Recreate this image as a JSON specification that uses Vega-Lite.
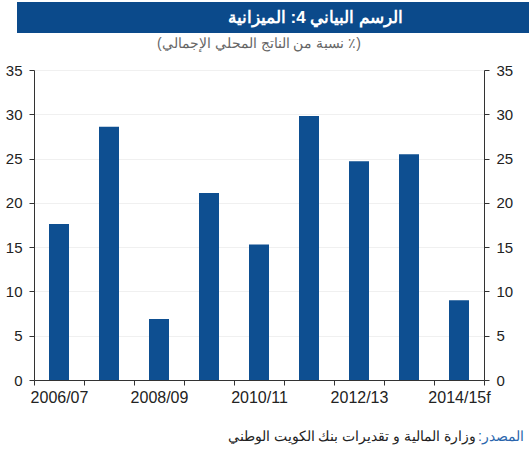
{
  "$schema": "https://vega.github.io/schema/vega-lite/v6.json",
  "padding": {"top": 2, "left": 0, "right": 0, "bottom": 0},
  "background": "white",
  "spacing": 4,
  "center": true,
  "config": {
    "view": {"stroke": null},
    "font": "Liberation Sans"
  },
  "vconcat": [
    {
      "width": 529,
      "height": 31,
      "view": {"fill": "#0b4a8b", "stroke": null},
      "data": {"values": [{"label": "الرسم البياني 4: الميزانية"}]},
      "mark": {"type": "text", "color": "white", "fontSize": 17, "fontWeight": "bold", "align": "center", "baseline": "middle", "dx": 34},
      "encoding": {"text": {"field": "label"}}
    },
    {
      "width": 450,
      "height": 310,
      "title": {
        "text": "‏(٪ نسبة من الناتج المحلي الإجمالي)‏",
        "fontSize": 14,
        "fontWeight": "normal",
        "color": "#666666",
        "offset": 12,
        "anchor": "middle"
      },
      "data": {
        "values": [
          {"year": "2006/07", "balance": 17.6},
          {"year": "2007/08", "balance": 28.6},
          {"year": "2008/09", "balance": 6.9},
          {"year": "2009/10", "balance": 21.1},
          {"year": "2010/11", "balance": 15.3},
          {"year": "2011/12", "balance": 29.8},
          {"year": "2012/13", "balance": 24.7},
          {"year": "2013/14", "balance": 25.5},
          {"year": "2014/15f", "balance": 9.0}
        ]
      },
      "encoding": {
        "x": {
          "field": "year",
          "type": "ordinal",
          "sort": null,
          "scale": {"paddingInner": 0, "paddingOuter": 0},
          "axis": {
            "title": null,
            "labelAngle": 0,
            "tickBand": "extent",
            "labelOverlap": false,
            "labelExpr": "indexof(['2006/07','2008/09','2010/11','2012/13','2014/15f'], datum.value) >= 0 ? datum.label : ''",
            "labelFontSize": 16,
            "labelColor": "#222222",
            "labelPadding": 4,
            "domainColor": "#333333",
            "tickColor": "#333333",
            "tickSize": 5,
            "grid": false
          }
        }
      },
      "layer": [
        {
          "mark": {"type": "bar", "color": "#0e4f91", "width": {"band": 0.4}},
          "encoding": {
            "y": {
              "field": "balance",
              "type": "quantitative",
              "scale": {"domain": [0, 35]},
              "axis": {
                "title": null,
                "values": [0, 5, 10, 15, 20, 25, 30, 35],
                "labelFontSize": 15,
                "labelColor": "#222222",
                "labelPadding": 7,
                "minExtent": 34,
                "domainColor": "#333333",
                "tickColor": "#333333",
                "tickSize": 5,
                "grid": true,
                "gridColor": "#f0f0f0"
              }
            }
          }
        },
        {
          "mark": {"type": "bar", "opacity": 0, "width": {"band": 0.4}},
          "encoding": {
            "y": {
              "field": "balance",
              "type": "quantitative",
              "scale": {"domain": [0, 35]},
              "axis": {
                "orient": "right",
                "title": null,
                "values": [0, 5, 10, 15, 20, 25, 30, 35],
                "labelFontSize": 15,
                "labelColor": "#222222",
                "labelPadding": 7,
                "minExtent": 45,
                "domainColor": "#333333",
                "tickColor": "#333333",
                "tickSize": 5,
                "grid": false
              }
            }
          }
        }
      ],
      "resolve": {"scale": {"y": "independent"}}
    },
    {
      "width": 529,
      "height": 36,
      "data": {
        "values": [
          {"part": "label", "text": "المصدر:‏"},
          {"part": "body", "text": "وزارة المالية و تقديرات بنك الكويت الوطني"}
        ]
      },
      "layer": [
        {
          "transform": [{"filter": "datum.part == 'label'"}],
          "mark": {"type": "text", "align": "right", "baseline": "middle", "fontSize": 14, "dy": 10, "dx": -22, "color": "#2a66ad"},
          "encoding": {"x": {"value": "width"}, "text": {"field": "text"}}
        },
        {
          "transform": [{"filter": "datum.part == 'body'"}],
          "mark": {"type": "text", "align": "right", "baseline": "middle", "fontSize": 14, "dy": 10, "dx": -70, "color": "#222222"},
          "encoding": {"x": {"value": "width"}, "text": {"field": "text"}}
        }
      ]
    }
  ]
}
